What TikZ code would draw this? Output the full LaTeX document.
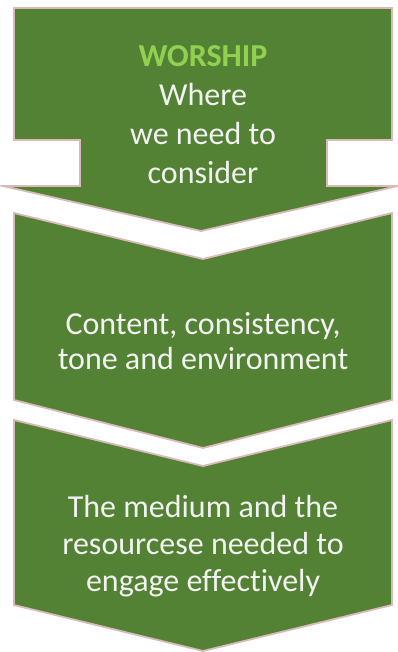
\documentclass[tikz,border=0pt]{standalone}
\usepackage{fontspec}
\setmainfont{Carlito}[Ligatures=NoCommon]
\definecolor{fillgreen}{HTML}{548235}
\definecolor{edgepink}{HTML}{D9B9BA}
\definecolor{titlegreen}{HTML}{92D050}
\definecolor{textwhite}{HTML}{F2F2F2}
\begin{document}
\begin{tikzpicture}[x=1pt,y=-1pt,
  panel/.style={fill=fillgreen,draw=edgepink,line width=1.8pt,line join=miter},
  blocktext/.style={text=textwhite,align=center,inner sep=0pt,
    font=\fontsize{32}{39}\selectfont}]
\useasboundingbox (0,0) rectangle (398,652);

% callout box with a down arrow
\path[panel] (14,8) -- (392,8) -- (392,140) -- (327,140) -- (327,186)
  -- (398,186) -- (201,231) -- (3,186) -- (80,186) -- (80,140)
  -- (14,140) -- cycle;

% two chevrons pointing down
\path[panel] (14,213) -- (203,259) -- (392,213) -- (392,400)
  -- (203,448) -- (14,400) -- cycle;
\path[panel] (14,420) -- (203,466) -- (392,420) -- (392,605)
  -- (203,651) -- (14,605) -- cycle;

\node[blocktext] (worship) at (203,115)
  {{\bfseries\color{titlegreen}WORSHIP}\\Where\\we need to\\consider};
\node[blocktext,font=\fontsize{32}{35}\selectfont] (content) at (203,341)
  {Content, consistency,\\tone and environment};
\node[blocktext,font=\fontsize{32}{37}\selectfont] (medium) at (203,546)
  {The medium and the\\resourcese needed to\\engage effectively};
\end{tikzpicture}
\end{document}
